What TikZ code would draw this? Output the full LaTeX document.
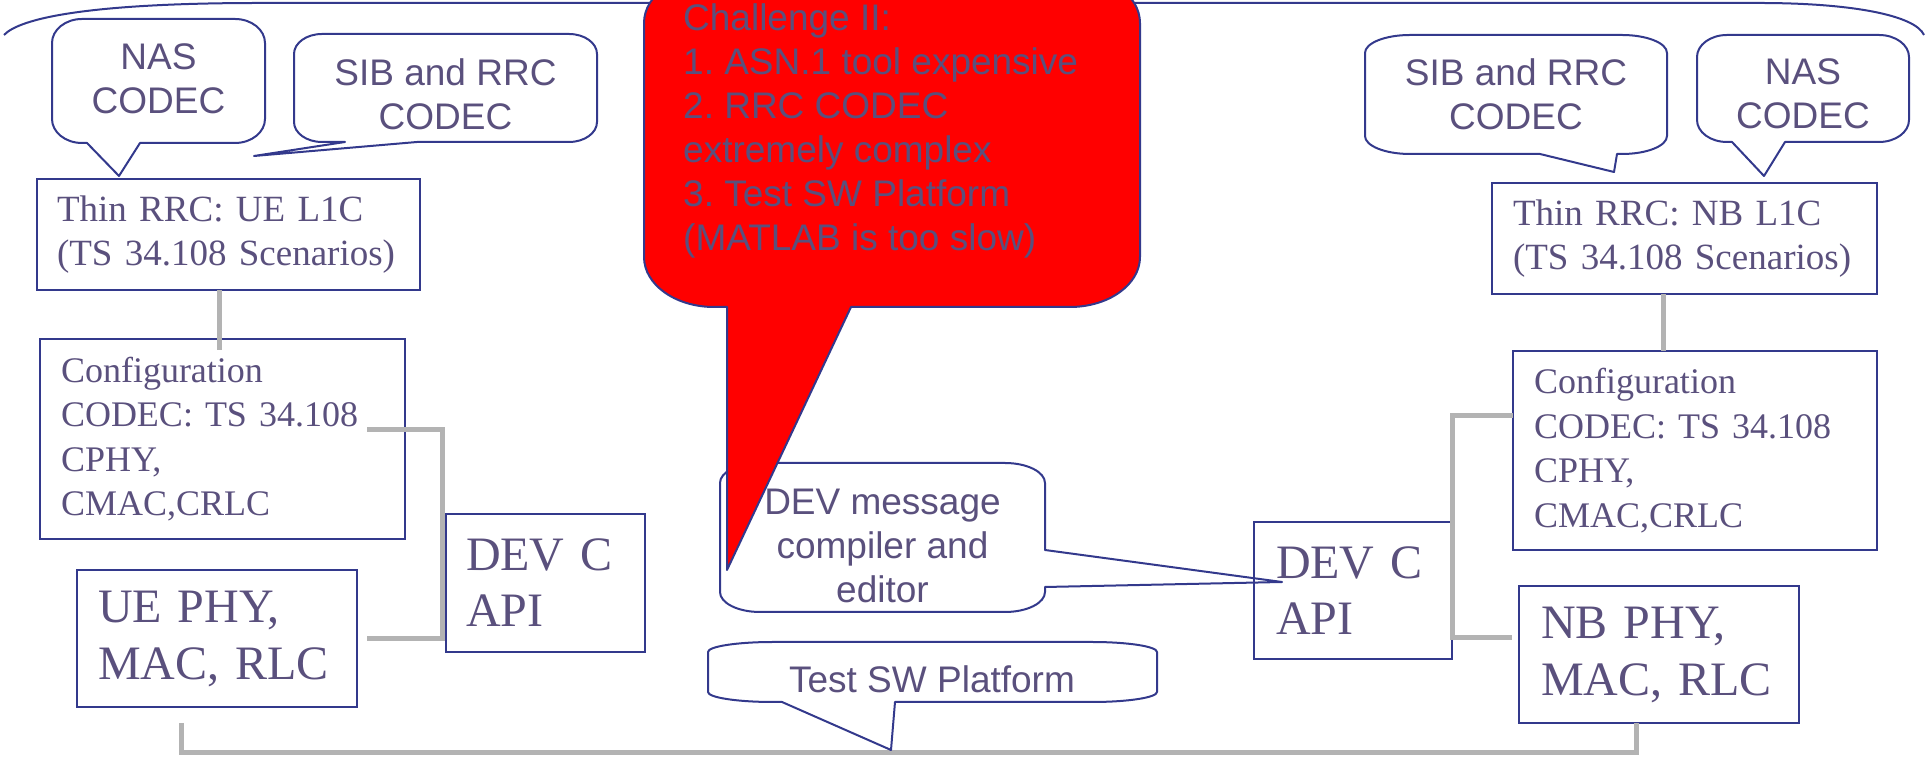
\documentclass[tikz,border=0pt]{standalone}
\usepackage{fontspec}
\setmainfont{Liberation Serif}
\setsansfont{Liberation Sans}
\usepackage{tikz}
\definecolor{boxblue}{HTML}{33398C}
\definecolor{txtgray}{HTML}{5A507D}
\definecolor{linkgray}{HTML}{B3B3B3}
\definecolor{calloutred}{HTML}{FF0000}

\begin{document}
\frenchspacing
\begin{tikzpicture}[
    x=1pt, y=1pt,
    box/.style={draw=boxblue, line width=2pt, align=left, text=txtgray, inner ysep=0pt, outer sep=0pt},
    bubble/.style={draw=boxblue, line width=2pt, line join=round},
    bubbletext/.style={font=\sffamily\fontsize{37}{44}\selectfont, align=center, text=txtgray, inner sep=0pt},
    link/.style={draw=linkgray, line width=5pt}
]
    \useasboundingbox (0,0) rectangle (1925,757);
    \clip (0,0) rectangle (1925,757);

    % Frame curve on top
    \draw[boxblue, line width=2pt] (4,722) .. controls (20,739) and (90,754) .. (260,754)
        -- (1760,754) .. controls (1850,754) and (1915,742) .. (1924,722);

    % UE side
    \node[box, font=\fontsize{37}{44}\selectfont, minimum width=383pt, minimum height=111pt, text width=343pt, inner xsep=20pt] (thinL) at (228.5,522.5) {Thin RRC: UE L1C\\(TS 34.108 Scenarios)};
    \node[box, font=\fontsize{36}{44.5}\selectfont, minimum width=365pt, minimum height=200pt, text width=323pt, inner xsep=21pt] (cfgL) at (222.5,318) {Configuration\\CODEC: TS 34.108\\CPHY,\\CMAC,CRLC};
    \node[box, font=\fontsize{48}{57}\selectfont, minimum width=280pt, minimum height=137pt, text width=238pt, inner xsep=21pt] (ueL) at (217,118.5) {UE PHY,\\MAC, RLC};
    \node[box, font=\fontsize{48}{56}\selectfont, minimum width=199pt, minimum height=138pt, text width=159pt, inner xsep=20pt] (devL) at (545.5,174) {DEV C\\API};

    % NB side
    \node[box, font=\fontsize{37}{44}\selectfont, minimum width=385pt, minimum height=111pt, text width=343pt, inner xsep=21pt] (thinR) at (1684.5,518.5) {Thin RRC: NB L1C\\(TS 34.108 Scenarios)};
    \node[box, font=\fontsize{36}{44.5}\selectfont, minimum width=364pt, minimum height=199pt, text width=322pt, inner xsep=21pt] (cfgR) at (1695,306.5) {Configuration\\CODEC: TS 34.108\\CPHY,\\CMAC,CRLC};
    \node[box, font=\fontsize{48}{57}\selectfont, minimum width=280pt, minimum height=137pt, text width=236pt, inner xsep=22pt] (nbR) at (1659,102) {NB PHY,\\MAC, RLC};
    \node[box, font=\fontsize{48}{56}\selectfont, minimum width=198pt, minimum height=137pt, text width=154pt, inner xsep=22pt] (devR) at (1353,166.5) {DEV C\\API};

    % Gray links
    \coordinate (rail) at (960,4);
    \draw[link] ([xshift=-9.5pt]thinL.south) -- ([xshift=-9.5pt,yshift=-11pt]thinL.south |- cfgL.north);
    \draw[link] ([xshift=-38pt,yshift=9pt]cfgL.east) -| ([xshift=-4pt]devL.west) |- ([xshift=10pt]ueL.east);
    \draw[link] ([xshift=-21.5pt]thinR.south) -- ([xshift=-21.5pt]thinR.south |- cfgR.north);
    \draw[link] ([yshift=34.5pt]cfgR.west) -| (devR.east) |- ([xshift=-7pt,yshift=17pt]nbR.west);
    \draw[link] ([xshift=-36pt,yshift=-16pt]ueL.south) |- (rail) -| ([xshift=-23pt]nbR.south);

    % Callout tips
    \coordinate (nasLtip) at (119,581);
    \coordinate (sibLtip) at (254,601);
    \coordinate (redtip) at (727,187);
    \coordinate (msgtip) at (1282,175);
    \coordinate (testtip) at (891,7);
    \coordinate (sibRtip) at (1614,585);
    \coordinate (nasRtip) at (1764,581);

    % Callouts
    \draw[bubble, x radius=30, y radius=24] (82,738) -- (235,738) arc[start angle=90, end angle=0] -- (265,638) arc[start angle=0, end angle=-90]
        -- (140,614) -- (nasLtip) -- (87,614) -- (82,614) arc[start angle=270, end angle=180] -- (52,714) arc[start angle=180, end angle=90] -- cycle;
    \draw[bubble, x radius=28, y radius=20] (322,723) -- (569,723) arc[start angle=90, end angle=0] -- (597,635) arc[start angle=0, end angle=-90]
        -- (417,615) -- (sibLtip) -- (345,615) -- (322,615) arc[start angle=270, end angle=180] -- (294,703) arc[start angle=180, end angle=90] -- cycle;
    \draw[bubble, x radius=40, y radius=20] (760,294) -- (1005,294) arc[start angle=90, end angle=0] -- (1045,207) -- (msgtip) -- (1045,170)
        -- (1045,165) arc[start angle=0, end angle=-90] -- (760,145) arc[start angle=270, end angle=180] -- (720,274) arc[start angle=180, end angle=90] -- cycle;
    \draw[bubble, fill=calloutred, x radius=70, y radius=50] (714,784) -- (1070,784) arc[start angle=90, end angle=0] -- (1140,500) arc[start angle=0, end angle=-90]
        -- (851,450) -- (redtip) -- (727,450) -- (714,450) arc[start angle=270, end angle=180] -- (644,734) arc[start angle=180, end angle=90] -- cycle;
    \draw[bubble, x radius=65, y radius=10] (773,115) -- (1092,115) arc[start angle=90, end angle=0] -- (1157,65) arc[start angle=0, end angle=-90]
        -- (895,55) -- (testtip) -- (782,55) -- (773,55) arc[start angle=270, end angle=180] -- (708,105) arc[start angle=180, end angle=90] -- cycle;
    \draw[bubble, x radius=45, y radius=18] (1410,722) -- (1622,722) arc[start angle=90, end angle=0] -- (1667,621) arc[start angle=0, end angle=-90]
        -- (1617,603) -- (sibRtip) -- (1540,603) -- (1410,603) arc[start angle=270, end angle=180] -- (1365,704) arc[start angle=180, end angle=90] -- cycle;
    \draw[bubble, x radius=30, y radius=22] (1727,722) -- (1879,722) arc[start angle=90, end angle=0] -- (1909,637) arc[start angle=0, end angle=-90]
        -- (1785,615) -- (nasRtip) -- (1732,615) -- (1727,615) arc[start angle=270, end angle=180] -- (1697,700) arc[start angle=180, end angle=90] -- cycle;

    % Callout texts
    \node[bubbletext] (nasLtxt) at (158.5,678.5) {NAS\\CODEC};
    \node[bubbletext] (sibLtxt) at (445.5,663) {SIB and RRC\\CODEC};
    \node[bubbletext, align=left, anchor=north west] (redtxt) at (683,753.5) {Challenge II:\\1. ASN.1 tool expensive\\2. RRC CODEC\\extremely complex\\3. Test SW Platform\\(MATLAB is too slow)};
    \node[bubbletext] (msgtxt) at (882.5,211) {DEV message\\compiler and\\editor};
    \node[bubbletext] (testtxt) at (932,78) {Test SW Platform};
    \node[bubbletext] (sibRtxt) at (1516,663) {SIB and RRC\\CODEC};
    \node[bubbletext] (nasRtxt) at (1803,663) {NAS\\CODEC};
\end{tikzpicture}
\end{document}
